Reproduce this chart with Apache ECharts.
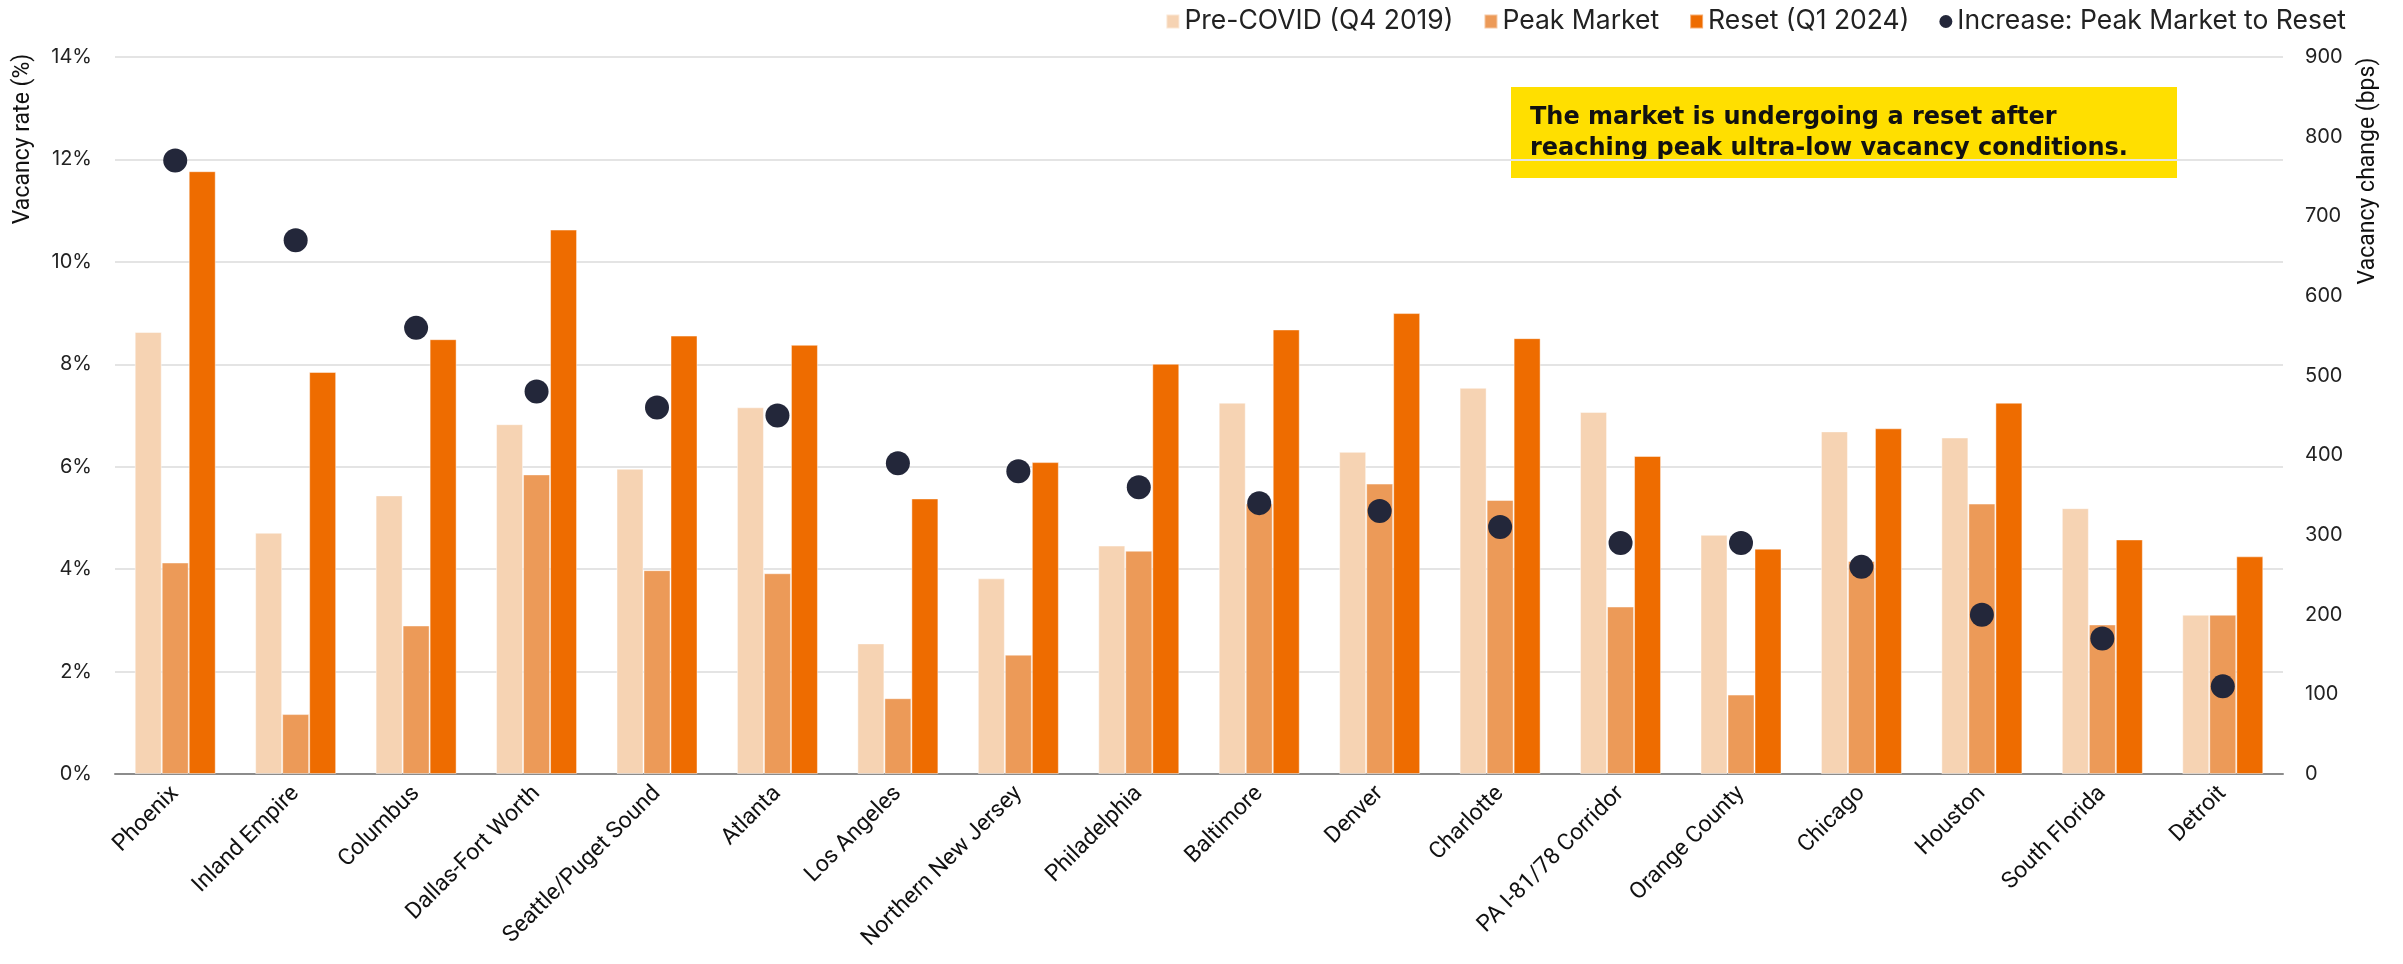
<!DOCTYPE html>
<html>
<head>
<meta charset="utf-8">
<script src="https://cdn.jsdelivr.net/npm/echarts@6/dist/echarts.min.js"></script>
<style>
  html, body { margin: 0; padding: 0; background: #ffffff; }
  #chart { width: 2403px; height: 964px; }
</style>
</head>
<body>
<div id="chart"></div>
<script>
// Industrial vacancy by market: pre-COVID, peak market and reset levels (%),
// plus the increase from peak market to reset (bps, right axis).
const markets = [
  'Phoenix', 'Inland Empire', 'Columbus', 'Dallas-Fort Worth', 'Seattle/Puget Sound',
  'Atlanta', 'Los Angeles', 'Northern New Jersey', 'Philadelphia', 'Baltimore',
  'Denver', 'Charlotte', 'PA I-81/78 Corridor', 'Orange County', 'Chicago',
  'Houston', 'South Florida', 'Detroit'
];
const preCovid = [8.63, 4.71, 5.44, 6.83, 5.96, 7.16, 2.55, 3.82, 4.46, 7.25, 6.29, 7.54, 7.07, 4.67, 6.69, 6.57, 5.19, 3.11];
const peakMarket = [4.13, 1.17, 2.90, 5.85, 3.98, 3.92, 1.48, 2.33, 4.36, 5.28, 5.67, 5.35, 3.27, 1.55, 4.16, 5.28, 2.92, 3.11];
const resetQ1 = [11.77, 7.85, 8.49, 10.63, 8.56, 8.38, 5.38, 6.09, 8.01, 8.68, 9.00, 8.51, 6.21, 4.40, 6.75, 7.25, 4.58, 4.25];
const increaseBps = [770, 670, 560, 480, 460, 450, 390, 380, 360, 340, 330, 310, 290, 290, 260, 200, 170, 110];

const seriesNames = ['Pre-COVID (Q4 2019)', 'Peak Market', 'Reset (Q1 2024)', 'Increase: Peak Market to Reset'];
const leftTicks = { min: 0, max: 14, interval: 2 };
const rightTicks = { min: 0, max: 900, interval: 100 };
const noteLines = ['The market is undergoing a reset after', 'reaching peak ultra-low vacancy conditions.'];

const colors = ['#F6D3B3', '#EC9A58', '#EE6C00', '#23273A'];
const textFont = 'Inter, "Noto Sans", sans-serif';
const nameFont = 'Roboto, sans-serif';

const chart = echarts.init(document.getElementById('chart'), null, { renderer: 'canvas' });

const barStyle = (c) => ({ color: c, borderColor: 'rgba(255,255,255,0.45)', borderWidth: 1 });

chart.setOption({
  animation: false,
  backgroundColor: '#ffffff',
  textStyle: { fontFamily: textFont },
  grid: { left: 115, right: 120, top: 57, height: 717 },
  legend: {
    right: 52,
    top: 3,
    itemWidth: 13,
    itemHeight: 14,
    itemGap: 30,
    textStyle: { fontFamily: textFont, fontSize: 26.5, color: '#222222' },
    data: [
      { name: seriesNames[0], icon: 'rect' },
      { name: seriesNames[1], icon: 'rect' },
      { name: seriesNames[2], icon: 'rect' },
      { name: seriesNames[3], icon: 'circle' }
    ]
  },
  xAxis: {
    type: 'category',
    data: markets,
    axisLine: { show: true, lineStyle: { color: '#8c8c8c', width: 2 } },
    axisTick: { show: false },
    axisLabel: {
      rotate: 45,
      interval: 0,
      margin: 16,
      fontFamily: nameFont,
      fontSize: 23,
      color: '#111111'
    }
  },
  yAxis: [
    {
      type: 'value',
      min: leftTicks.min,
      max: leftTicks.max,
      interval: leftTicks.interval,
      axisLine: { show: false },
      axisTick: { show: false },
      axisLabel: { formatter: '{value}%', margin: 23, fontSize: 20, color: '#222222' },
      splitLine: { show: true, lineStyle: { color: '#e4e4e4', width: 2 } }
    },
    {
      type: 'value',
      min: rightTicks.min,
      max: rightTicks.max,
      interval: rightTicks.interval,
      axisLine: { show: false },
      axisTick: { show: false },
      axisLabel: { margin: 22, fontSize: 20, color: '#222222' },
      splitLine: { show: false }
    }
  ],
  series: [
    { name: seriesNames[0], type: 'bar', data: preCovid, barWidth: 27, barGap: '0%', itemStyle: barStyle(colors[0]) },
    { name: seriesNames[1], type: 'bar', data: peakMarket, barWidth: 27, barGap: '0%', itemStyle: barStyle(colors[1]) },
    { name: seriesNames[2], type: 'bar', data: resetQ1, barWidth: 27, barGap: '0%', itemStyle: barStyle(colors[2]) },
    {
      name: seriesNames[3], type: 'scatter', yAxisIndex: 1, data: increaseBps,
      symbol: 'circle', symbolSize: 24, z: 5,
      itemStyle: { color: colors[3], opacity: 1 }
    }
  ],
  graphic: [
    {
      type: 'text',
      x: 23, y: 139,
      rotation: Math.PI / 2,
      style: {
        text: 'Vacancy rate (%)',
        fontFamily: nameFont, fontSize: 23, fill: '#111111',
        align: 'center', verticalAlign: 'middle'
      }
    },
    {
      type: 'text',
      x: 2368, y: 171,
      rotation: Math.PI / 2,
      style: {
        text: 'Vacancy change (bps)',
        fontFamily: nameFont, fontSize: 23, fill: '#111111',
        align: 'center', verticalAlign: 'middle'
      }
    },
    {
      type: 'group',
      x: 1511, y: 87,
      z: 10,
      children: [
        { type: 'rect', shape: { x: 0, y: 0, width: 666, height: 91 }, style: { fill: '#FFDF00' } },
        {
          type: 'text', x: 19, y: 15,
          style: {
            text: noteLines.join('\n'),
            fontFamily: '"DejaVu Sans", sans-serif', fontWeight: 'bold', fontSize: 24, lineHeight: 31,
            fill: '#111111'
          }
        }
      ]
    }
  ]
});
</script>
</body>
</html>
